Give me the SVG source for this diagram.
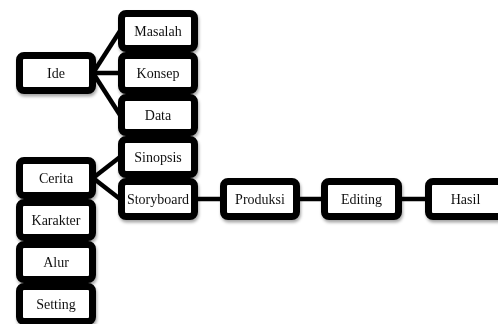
<svg xmlns="http://www.w3.org/2000/svg" width="498" height="324" viewBox="0 0 498 324">
<defs>
<filter id="sh" x="-20%" y="-20%" width="140%" height="150%">
<feDropShadow dx="1" dy="2.5" stdDeviation="1.5" flood-color="#000" flood-opacity="0.35"/>
</filter>
</defs>
<style>
.box{fill:#fff;stroke:#000;stroke-width:7;rx:4.5px;ry:4.5px}
.lbl{font-family:"Liberation Serif","DejaVu Serif",serif;font-size:14px;fill:#111;text-anchor:middle}
.c{stroke:#000;stroke-width:4.5;fill:none}
g.n{filter:url(#sh)}
</style>
<rect width="498" height="324" fill="#fff"/>
<g id="connectors">
<line class="c" x1="93" y1="73" x2="120" y2="31"/>
<line class="c" x1="93" y1="73" x2="120" y2="73"/>
<line class="c" x1="93" y1="73" x2="120" y2="115"/>
<line class="c" x1="93" y1="178" x2="120" y2="157"/>
<line class="c" x1="93" y1="178" x2="120" y2="199"/>
<line class="c" x1="196" y1="199" x2="222" y2="199"/>
<line class="c" x1="298" y1="199" x2="323" y2="199"/>
<line class="c" x1="400" y1="199" x2="427" y2="199"/>
</g>
<g id="n-masalah" class="n"><rect class="box" x="121.5" y="13.5" width="73" height="35"/><text class="lbl" x="158" y="36">Masalah</text></g>
<g id="n-konsep" class="n"><rect class="box" x="121.5" y="55.5" width="73" height="35"/><text class="lbl" x="158" y="78">Konsep</text></g>
<g id="n-data" class="n"><rect class="box" x="121.5" y="97.5" width="73" height="35"/><text class="lbl" x="158" y="120">Data</text></g>
<g id="n-sinopsis" class="n"><rect class="box" x="121.5" y="139.5" width="73" height="35"/><text class="lbl" x="158" y="162">Sinopsis</text></g>
<g id="n-storyboard" class="n"><rect class="box" x="121.5" y="181.5" width="73" height="35"/><text class="lbl" x="158" y="204">Storyboard</text></g>
<g id="n-ide" class="n"><rect class="box" x="19.5" y="55.5" width="73" height="35"/><text class="lbl" x="56" y="78">Ide</text></g>
<g id="n-cerita" class="n"><rect class="box" x="19.5" y="160.5" width="73" height="35"/><text class="lbl" x="56" y="183">Cerita</text></g>
<g id="n-karakter" class="n"><rect class="box" x="19.5" y="202.5" width="73" height="35"/><text class="lbl" x="56" y="225">Karakter</text></g>
<g id="n-alur" class="n"><rect class="box" x="19.5" y="244.5" width="73" height="35"/><text class="lbl" x="56" y="267">Alur</text></g>
<g id="n-setting" class="n"><rect class="box" x="19.5" y="286.5" width="73" height="35"/><text class="lbl" x="56" y="309">Setting</text></g>
<g id="n-produksi" class="n"><rect class="box" x="223.5" y="181.5" width="73" height="35"/><text class="lbl" x="260" y="204">Produksi</text></g>
<g id="n-editing" class="n"><rect class="box" x="324.5" y="181.5" width="74" height="35"/><text class="lbl" x="361.5" y="204">Editing</text></g>
<g id="n-hasil" class="n"><rect class="box" x="428.5" y="181.5" width="74" height="35"/><text class="lbl" x="465.5" y="204">Hasil</text></g>
</svg>
